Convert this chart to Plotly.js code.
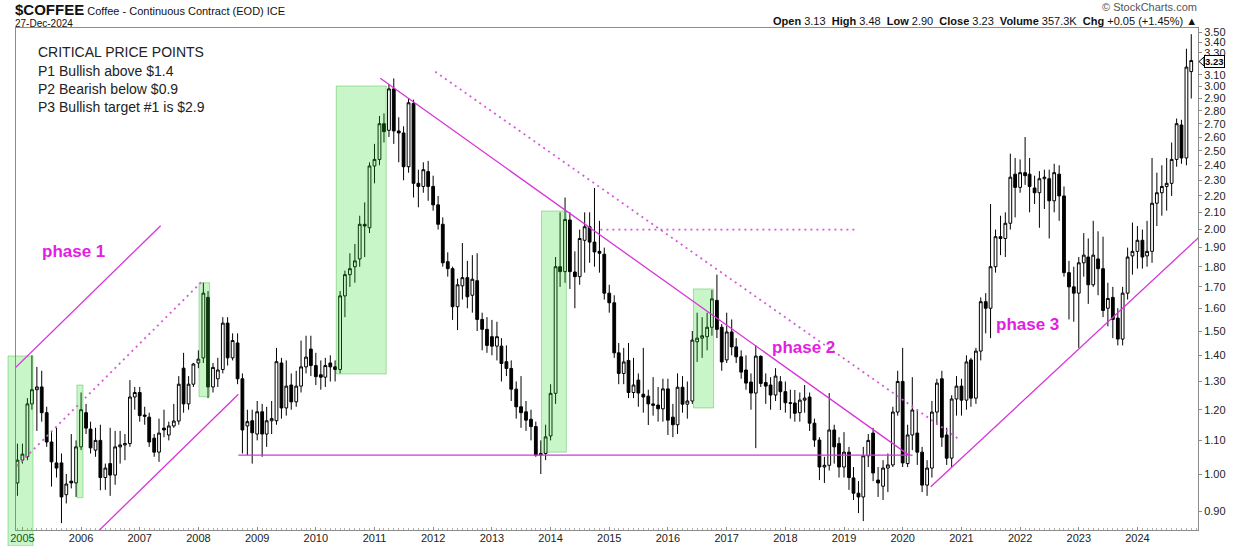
<!DOCTYPE html>
<html><head><meta charset="utf-8">
<script src="https://cdn.plot.ly/plotly-3.0.1.min.js"></script>
<style>html,body{margin:0;padding:0;background:#fff}#chart{width:1240px;height:546px}</style>
</head><body><div id="chart"></div>
<script>
// ---- DATA (monthly candles, first candle = Dec 2004) ----
const firstYear = 2004, firstMonth = 12;
const open = [
 0.975,1.04,1.05,1.22,1.27,1.28,1.19,1.095,1.032,1.032,0.943,0.980,0.975,
 1.08,1.19,1.136,1.07,1.10,0.99,1.03,0.997,1.08,1.086,1.09,1.244,
 1.26,1.182,1.175,1.107,1.064,1.139,1.117,1.146,1.162,1.35,1.22,1.29,
 1.37,1.39,1.65,1.28,1.31,1.345,1.534,1.39,1.45,1.31,1.146,1.163,
 1.12,1.193,1.12,1.163,1.163,1.37,1.206,1.287,1.227,1.283,1.355,1.425,
 1.36,1.325,1.316,1.37,1.355,1.345,1.657,1.76,1.80,1.84,2.03,2.01,
 2.395,2.44,2.70,2.65,2.98,2.645,2.63,2.39,2.86,2.28,2.26,2.357,
 2.26,2.145,2.03,1.826,1.79,1.607,1.705,1.745,1.66,1.73,1.55,1.507,
 1.476,1.437,1.437,1.375,1.349,1.272,1.21,1.193,1.168,1.144,1.055,1.06,
 1.114,1.257,1.80,1.775,2.055,1.773,1.75,1.94,2.016,1.93,1.88,1.865,
 1.67,1.625,1.41,1.33,1.38,1.26,1.305,1.254,1.247,1.22,1.216,1.203,
 1.273,1.175,1.15,1.279,1.219,1.23,1.455,1.47,1.476,1.516,1.636,1.516,
 1.382,1.496,1.434,1.394,1.343,1.298,1.258,1.396,1.296,1.287,1.251,1.299,
 1.263,1.224,1.223,1.19,1.233,1.244,1.155,1.101,1.02,1.025,1.133,1.09,
 1.02,1.064,0.989,0.947,0.937,1.053,1.123,0.983,0.966,1.017,1.026,1.192,
 1.30,1.03,1.117,1.123,1.064,0.969,1.017,1.192,1.31,1.117,1.046,1.237,
 1.283,1.233,1.382,1.24,1.417,1.63,1.60,1.80,1.96,1.95,2.036,2.34,
 2.254,2.35,2.34,2.25,2.22,2.31,2.31,2.17,2.34,2.20,1.77,1.70,
 1.67,1.82,1.85,1.71,1.84,1.79,1.60,1.65,1.556,1.466,1.67,1.856,
 1.88,1.94,1.856,1.88,2.155,2.22,2.26,2.28,2.44,2.69,2.45,3.13
];
const high = [
 1.09,1.09,1.24,1.40,1.355,1.34,1.21,1.13,1.14,1.06,1.00,1.12,1.10,
 1.26,1.22,1.16,1.14,1.15,1.03,1.14,1.13,1.13,1.12,1.305,1.28,
 1.28,1.21,1.19,1.12,1.17,1.20,1.16,1.22,1.32,1.41,1.32,1.37,
 1.42,1.72,1.68,1.37,1.39,1.56,1.56,1.49,1.49,1.33,1.20,1.20,
 1.23,1.22,1.21,1.23,1.43,1.39,1.38,1.33,1.34,1.46,1.48,1.48,
 1.41,1.38,1.39,1.40,1.38,1.68,1.78,1.87,1.92,2.08,2.16,2.42,
 2.55,2.76,2.78,3.02,3.07,2.75,2.68,2.90,2.89,2.37,2.42,2.43,
 2.33,2.20,2.07,1.875,1.80,1.74,1.925,1.83,1.86,1.87,1.58,1.56,
 1.548,1.54,1.47,1.44,1.38,1.30,1.32,1.23,1.20,1.16,1.10,1.15,
 1.29,1.85,2.10,2.19,2.10,1.88,2.00,2.10,2.10,2.25,2.05,1.90,
 1.71,1.66,1.45,1.43,1.45,1.39,1.33,1.43,1.27,1.316,1.28,1.31,
 1.31,1.22,1.33,1.32,1.30,1.50,1.58,1.56,1.58,1.685,1.76,1.53,
 1.58,1.55,1.47,1.42,1.40,1.33,1.44,1.40,1.33,1.316,1.35,1.32,
 1.30,1.27,1.269,1.26,1.287,1.26,1.17,1.11,1.05,1.258,1.15,1.11,
 1.126,1.08,1.02,0.98,1.08,1.12,1.14,1.02,1.04,1.06,1.21,1.34,
 1.43,1.15,1.316,1.20,1.08,1.04,1.23,1.31,1.34,1.14,1.25,1.32,
 1.31,1.40,1.39,1.43,1.65,1.67,2.15,2.00,2.08,2.10,2.48,2.45,
 2.44,2.60,2.45,2.33,2.36,2.37,2.37,2.41,2.40,2.26,1.83,1.80,
 1.85,1.98,1.95,2.05,1.99,1.96,1.72,1.70,1.60,1.70,1.90,2.04,
 2.02,2.00,2.05,2.45,2.35,2.40,2.45,2.56,2.74,2.73,3.34,3.48
];
const low = [
 0.94,1.03,1.04,1.20,1.13,1.16,1.08,0.965,0.99,0.87,0.92,0.96,0.937,
 1.07,1.12,1.06,1.05,0.955,0.956,0.94,0.97,1.03,1.04,1.08,1.20,
 1.16,1.15,1.08,1.05,1.035,1.11,1.10,1.14,1.15,1.19,1.20,1.28,
 1.35,1.37,1.24,1.26,1.28,1.33,1.36,1.38,1.29,1.06,1.055,1.03,
 1.10,1.05,1.08,1.12,1.15,1.17,1.18,1.20,1.21,1.26,1.33,1.32,
 1.287,1.27,1.28,1.30,1.30,1.33,1.56,1.70,1.72,1.80,1.85,1.98,
 2.28,2.40,2.56,2.60,2.55,2.42,2.30,2.35,2.19,2.13,2.22,2.17,
 2.11,2.00,1.80,1.75,1.548,1.504,1.64,1.60,1.58,1.50,1.42,1.41,
 1.40,1.38,1.30,1.32,1.23,1.17,1.14,1.13,1.10,1.05,1.00,1.04,
 1.10,1.22,1.70,1.72,1.69,1.60,1.71,1.77,1.82,1.80,1.77,1.64,
 1.58,1.39,1.29,1.29,1.24,1.24,1.21,1.19,1.149,1.18,1.16,1.16,
 1.117,1.11,1.12,1.19,1.17,1.22,1.374,1.39,1.42,1.48,1.47,1.34,
 1.37,1.40,1.37,1.31,1.27,1.20,1.076,1.28,1.22,1.20,1.23,1.199,
 1.19,1.17,1.16,1.16,1.19,1.13,1.08,0.983,0.975,1.01,1.03,0.99,
 0.99,0.956,0.929,0.895,0.875,1.02,0.98,0.937,0.929,0.95,1.02,1.18,
 1.02,1.02,1.07,1.026,0.95,0.94,0.99,1.15,1.08,1.026,1.02,1.18,
 1.18,1.20,1.21,1.22,1.38,1.49,1.47,1.77,1.86,1.85,2.00,2.07,
 2.22,2.27,2.10,2.15,2.01,2.12,1.95,2.10,2.05,1.75,1.55,1.54,
 1.43,1.75,1.62,1.70,1.66,1.56,1.52,1.47,1.44,1.44,1.64,1.76,
 1.79,1.79,1.80,1.82,2.02,2.08,2.11,2.20,2.39,2.41,2.40,2.90
];
const close = [
 1.04,1.058,1.22,1.27,1.28,1.19,1.095,1.035,1.017,0.937,0.972,0.975,1.08,
 1.20,1.139,1.077,1.10,0.99,1.017,0.997,1.08,1.086,1.09,1.244,1.26,
 1.18,1.178,1.095,1.064,1.123,1.133,1.146,1.162,1.29,1.22,1.29,1.366,
 1.385,1.67,1.28,1.353,1.343,1.534,1.39,1.46,1.31,1.133,1.16,1.124,
 1.193,1.12,1.163,1.17,1.375,1.206,1.283,1.227,1.283,1.355,1.393,1.36,
 1.318,1.316,1.36,1.355,1.345,1.657,1.76,1.79,1.83,2.03,2.02,2.395,
 2.44,2.70,2.64,2.98,2.645,2.63,2.39,2.865,2.28,2.26,2.37,2.26,
 2.145,2.03,1.82,1.79,1.607,1.71,1.745,1.653,1.737,1.55,1.507,1.44,
 1.437,1.476,1.368,1.349,1.272,1.21,1.19,1.165,1.144,1.055,1.06,1.111,
 1.257,1.80,1.775,2.058,1.775,1.75,1.95,2.016,1.93,1.877,1.87,1.67,
 1.625,1.41,1.33,1.374,1.26,1.287,1.258,1.244,1.22,1.215,1.203,1.273,
 1.165,1.15,1.279,1.219,1.23,1.462,1.47,1.48,1.516,1.643,1.507,1.374,
 1.496,1.434,1.394,1.335,1.294,1.258,1.397,1.293,1.283,1.251,1.32,1.263,
 1.224,1.222,1.188,1.233,1.24,1.155,1.101,1.02,1.025,1.133,1.08,1.02,
 1.064,0.99,0.947,0.937,1.053,1.10,1.003,0.975,1.017,1.026,1.192,1.30,
 1.032,1.117,1.199,1.064,0.969,1.017,1.192,1.294,1.11,1.046,1.237,1.283,
 1.233,1.374,1.24,1.417,1.63,1.60,1.80,1.96,1.95,2.036,2.32,2.254,
 2.35,2.33,2.26,2.22,2.31,2.32,2.17,2.35,2.20,1.77,1.70,1.67,
 1.82,1.86,1.71,1.86,1.79,1.59,1.645,1.55,1.466,1.67,1.85,1.88,
 1.94,1.85,1.88,2.155,2.22,2.26,2.28,2.44,2.70,2.45,3.17,3.23
];
const yearLabels = ['2005','2006','2007','2008','2009','2010','2011','2012','2013','2014','2015','2016','2017','2018','2019','2020','2021','2022','2023','2024'];
const priceTicks = [0.9,1.0,1.1,1.2,1.3,1.4,1.5,1.6,1.7,1.8,1.9,2.0,2.1,2.2,2.3,2.4,2.5,2.6,2.7,2.8,2.9,3.0,3.1,3.3,3.4,3.5];
const notes = ['CRITICAL PRICE POINTS','P1 Bullish above $1.4','P2 Bearish below $0.9','P3 Bullish target #1 is $2.9'];

// ---- derived x categories (month starts) ----
const dates = open.map((_, i) => {
  const t = firstMonth - 1 + i;
  const y = firstYear + Math.floor(t / 12);
  const m = (t % 12) + 1;
  return y + '-' + String(m).padStart(2, '0') + '-01';
});

// ---- layout geometry ----
const W = 1240, H = 546, PL = 16, PR = 1198, PT = 28, PB = 530;
const px = x => (x - PL) / (PR - PL);
const py = y => (PB - y) / (PB - PT);
const FONT = 'Liberation Sans, Arial, Helvetica, sans-serif';
const MAG_LINE = 'rgb(216,52,216)';
const MAG_TEXT = 'rgb(226,30,226)';

const trace = {
  type: 'candlestick', x: dates, open: open, high: high, low: low, close: close,
  increasing: {line: {color: '#000', width: 1}, fillcolor: '#fff'},
  decreasing: {line: {color: '#000', width: 1}, fillcolor: '#000'},
  whiskerwidth: 0, hoverinfo: 'skip', showlegend: false
};

const green = {fillcolor: 'rgba(40,220,40,0.25)', line: {color: 'rgba(30,170,30,0.35)', width: 1}, layer: 'above'};
function box(x0, x1, y0, y1) { return Object.assign({type: 'rect', xref: 'x', yref: 'y', x0, x1, y0, y1}, green); }
function seg(x0, y0, x1, y1, dash) {
  return {type: 'line', xref: 'x', yref: 'y', x0, y0, x1, y1, layer: 'above',
          line: {color: dash ? 'rgb(214,90,214)' : MAG_LINE, width: dash ? 1.8 : 1.3, dash: dash || 'solid'}};
}
const DOT = '2px,4px';

const shapes = [
  // highlight boxes
  Object.assign({type: 'rect', xref: 'paper', yref: 'paper', x0: px(8), x1: px(33), y0: py(546), y1: py(356)}, green),
  box('2005-12-06', '2006-01-13', 0.935, 1.287),
  box('2008-01-05', '2008-03-11', 1.245, 1.72),
  box('2010-05-08', '2011-03-15', 1.328, 3.005),
  box('2013-11-05', '2014-04-09', 1.064, 2.108),
  box('2016-06-08', '2016-10-11', 1.206, 1.69),
  // phase 1 channel
  seg('2004-08-14', 1.295, '2007-05-11', 2.022),
  seg('2004-08-14', 0.975, '2008-01-22', 1.725, DOT),
  seg('2006-01-13', 0.815, '2008-09-06', 1.254),
  // phase 2
  seg('2011-02-06', 3.071, '2020-02-09', 1.055),
  seg('2012-01-14', 3.129, '2020-12-07', 1.107, DOT),
  seg('2014-11-07', 2.0, '2019-03-14', 2.0, DOT),
  seg('2008-09-06', 1.055, '2020-03-03', 1.055),
  // phase 3
  seg('2020-06-24', 0.9646, '2025-03-27', 2.014),
  // price tag pointer
  {type: 'path', xref: 'paper', yref: 'paper', layer: 'above',
   path: 'M ' + px(1199) + ' ' + py(61.5) + ' L ' + px(1204) + ' ' + py(57) + ' L ' + px(1204) + ' ' + py(66) + ' Z',
   fillcolor: '#fff', line: {color: '#000', width: 1}}
];

const last = open.length - 1;
const ann = [];
function txt(x, y, text, size, color, anchor, extra) {
  ann.push(Object.assign({xref: 'paper', yref: 'paper', x: px(x), y: py(y), text: text, showarrow: false,
    xanchor: anchor || 'left', yanchor: 'middle', font: {family: FONT, size: size, color: color}}, extra || {}));
}
txt(16, 9, '<b style="font-size:15px">$COFFEE</b> <span style="font-size:11px">Coffee - Continuous Contract (EOD) ICE</span>', 11, '#111', 'left', {xshift: -3});
txt(16, 23, '27-Dec-2024', 10, '#111', 'left', {xshift: -3});
txt(1199, 7, '© StockCharts.com', 11, '#555', 'right');
txt(1199, 21, '<b>Open</b> ' + open[last].toFixed(2) + '  <b>High</b> ' + high[last].toFixed(2) + '  <b>Low</b> ' + low[last].toFixed(2) +
    '  <b>Close</b> ' + close[last].toFixed(2) + '  <b>Volume</b> 357.3K  <b>Chg</b> +0.05 (+1.45%) ▲', 11, '#111', 'right');
notes.forEach((t, i) => txt(38, [52, 71, 89, 107][i], t, 14, '#222', 'left', {xshift: -2}));
txt(73, 251, '<b>phase 1</b>', 17, MAG_TEXT, 'center');
txt(803, 347, '<b>phase 2</b>', 17, MAG_TEXT, 'center');
txt(1027, 325, '<b>phase 3</b>', 17, MAG_TEXT, 'center');
ann.push({xref: 'paper', yref: 'y', x: px(1204), y: Math.log10(close[last]), yshift: -1, text: '<b>' + close[last].toFixed(2) + '</b>',
  showarrow: false, xanchor: 'left', yanchor: 'middle', bgcolor: '#fff', bordercolor: '#000', borderwidth: 1, borderpad: 0,
  font: {family: FONT, size: 9.5, color: '#000'}});

const layout = {
  width: W, height: H,
  margin: {l: PL, r: W - PR, t: PT, b: H - PB, pad: 0},
  paper_bgcolor: '#fff', plot_bgcolor: '#fff', showlegend: false,
  boxgap: 0.12,
  xaxis: {
    type: 'date', range: ['2004-11-22', '2025-01-12'], rangeslider: {visible: false},
    showgrid: false, zeroline: false, showline: true, linecolor: '#8c8c8c', linewidth: 1, mirror: true,
    tickmode: 'array', tickvals: yearLabels.map(y => y + '-01-01'), ticktext: yearLabels,
    ticks: 'inside', ticklen: 3, tickcolor: '#8c8c8c', ticklabelstandoff: -2,
    minor: {ticks: 'inside', ticklen: 2, tickcolor: '#b0b0b0', dtick: 'M1', tick0: '2004-12-01', showgrid: false},
    tickfont: {family: FONT, size: 11, color: '#222'}, fixedrange: true
  },
  yaxis: {
    type: 'log', side: 'right', range: [Math.log10(0.8532), Math.log10(3.5417)],
    showgrid: false, zeroline: false, showline: true, linecolor: '#8c8c8c', linewidth: 1, mirror: true,
    tickmode: 'array', tickvals: priceTicks, ticktext: priceTicks.map(v => v.toFixed(2)),
    ticks: 'outside', ticklen: 3, tickcolor: '#8c8c8c',
    tickfont: {family: FONT, size: 11, color: '#222'}, fixedrange: true
  },
  shapes: shapes, annotations: ann
};

Plotly.newPlot('chart', [trace], layout, {staticPlot: true, displayModeBar: false});
</script>
</body></html>
